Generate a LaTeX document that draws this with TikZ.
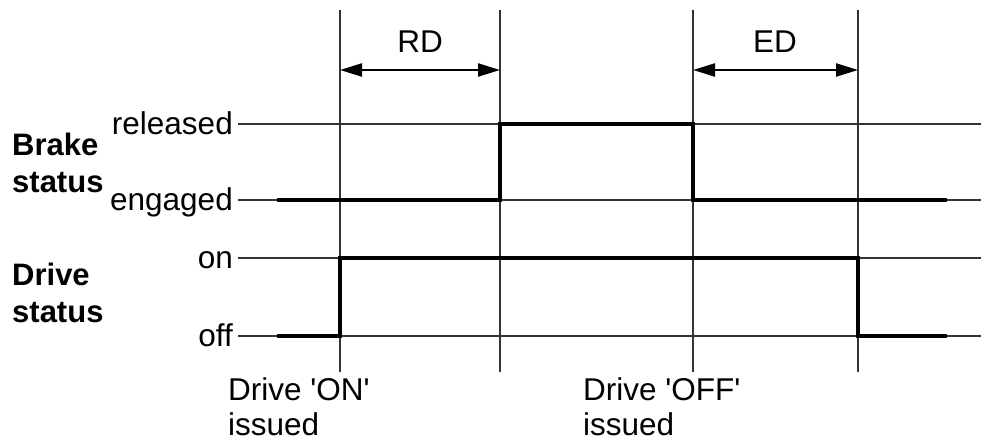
\documentclass[tikz,border=0pt]{standalone}
\usepackage{fontspec}
\setmainfont{Liberation Sans}[Ligatures=TeXOff]
\usetikzlibrary{arrows.meta}
\begin{document}
\begin{tikzpicture}[x=1pt,y=-1pt,
  thinline/.style={line width=1.3pt,black!80},
  signal/.style={line width=4.5pt,line join=miter,line cap=butt},
  dimarrow/.style={line width=2.2pt,{Triangle[length=22pt,width=13pt]}-{Triangle[length=22pt,width=13pt]}},
  lbl/.style={inner sep=0pt,font=\fontsize{31.5}{35}\selectfont},
  blbl/.style={inner sep=0pt,font=\fontsize{31}{37}\selectfont\bfseries,align=left}
]
\useasboundingbox (0,0) rectangle (981,441);
% grid coordinates
\foreach \n/\x in {a/340,b/500,c/693,d/858}{
  \coordinate (\n top) at (\x,10);
  \coordinate (\n bot) at (\x,372);
  \draw[thinline] (\n top) -- (\n bot);
}
\foreach \n/\y in {rel/124,eng/200,on/258,off/336}{
  \coordinate (\n L) at (238,\y);
  \coordinate (\n R) at (981,\y);
  \draw[thinline] (\n L) -- (\n R);
}
% level labels
\node[lbl,anchor=base east] (trel) at (233,134) {released};
\node[lbl,anchor=base east] (teng) at (233,210) {engaged};
\node[lbl,anchor=base east] (ton) at (233,268) {on};
\node[lbl,anchor=base east] (toff) at (233,346) {off};
% group labels (base = baseline of last line)
\node[blbl,anchor=base west] (brake) at (12,192) {Brake\\status};
\node[blbl,anchor=base west] (drive) at (12,322) {Drive\\status};
% signals
\coordinate (bs) at (277,200);
\coordinate (be) at (947,200);
\draw[signal] (bs) -- (500,200) -- (500,124) -- (693,124) -- (693,200) -- (be);
\coordinate (ds) at (277,336);
\coordinate (de) at (947,336);
\draw[signal] (ds) -- (340,336) -- (340,258) -- (858,258) -- (858,336) -- (de);
% dimension arrows
\coordinate (rdL) at (340,70);
\coordinate (rdR) at (500,70);
\coordinate (edL) at (693,70);
\coordinate (edR) at (858,70);
\draw[dimarrow] (rdL) -- (rdR);
\draw[dimarrow] (edL) -- (edR);
\node[lbl,anchor=base] (rd) at (420,53) {RD};
\node[lbl,anchor=base] (ed) at (775,53) {ED};
% event labels
\node[lbl,anchor=base west,align=left] (evon) at (228,435) {Drive 'ON'\\issued};
\node[lbl,anchor=base west,align=left] (evoff) at (583,435) {Drive 'OFF'\\issued};
\end{tikzpicture}
\end{document}
